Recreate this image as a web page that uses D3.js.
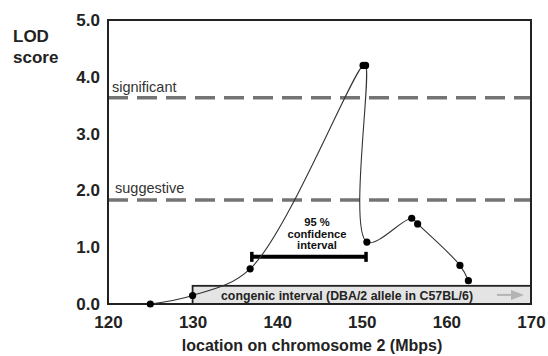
<!DOCTYPE html>
<html>
<head>
<meta charset="utf-8">
<script src="https://cdn.jsdelivr.net/npm/d3@7"></script>
<style>
  body { margin: 0; background: #fff; }
  svg { display: block; font-family: "Liberation Sans", Arial, sans-serif; }
</style>
</head>
<body>
<svg id="chart" width="548" height="356"></svg>
<script>
// markers along chromosome 2 (Mbps) and their LOD scores
const positions = [125, 130, 136.8, 150.15, 150.45, 150.6, 155.9, 156.6, 161.6, 162.6];
const lodScores = [0.0, 0.15, 0.62, 4.2, 4.2, 1.09, 1.51, 1.41, 0.68, 0.41];

const xTicks = [120, 130, 140, 150, 160, 170];
const yTicks = [0, 1, 2, 3, 4, 5];

const thresholds = [
  { name: 'significant', lod: 3.63 },
  { name: 'suggestive', lod: 1.83 }
];

const ciRange = [137, 150.5];   // 95 % confidence interval
const ciLod = 0.83;
const congenicRange = [130, 170];
const congenicHeight = 0.32;

const svg = d3.select('#chart');

const x = d3.scaleLinear().domain([120, 170]).range([108, 531]);
const y = d3.scaleLinear().domain([0, 5]).range([304, 20]);

// threshold lines
thresholds.forEach(t => {
  svg.append('line')
    .attr('x1', x(120)).attr('x2', x(170))
    .attr('y1', y(t.lod)).attr('y2', y(t.lod))
    .attr('stroke', '#747474')
    .attr('stroke-width', 3.5)
    .attr('stroke-dasharray', '20,9');
});

svg.append('text')
  .attr('x', 112).attr('y', y(thresholds[0].lod) - 6)
  .attr('font-size', 14.5).attr('fill', '#333')
  .text('significant');

svg.append('text')
  .attr('x', 115).attr('y', y(thresholds[1].lod) - 7)
  .attr('font-size', 14.5).attr('fill', '#333')
  .text('suggestive');

// congenic interval box
svg.append('rect')
  .attr('x', x(congenicRange[0]))
  .attr('y', y(congenicHeight))
  .attr('width', x(congenicRange[1]) - x(congenicRange[0]))
  .attr('height', y(0) - y(congenicHeight))
  .attr('fill', '#e4e4e4')
  .attr('stroke', '#222')
  .attr('stroke-width', 1.8);

svg.append('text')
  .attr('x', 221).attr('y', 299.5)
  .attr('font-size', 12.3).attr('fill', '#222')
  .attr('font-weight', 'bold')
  .attr('textLength', 252)
  .text('congenic interval (DBA/2 allele in C57BL/6)');

// light arrow at the right end of the congenic box
const ay = y(congenicHeight / 2);
svg.append('line')
  .attr('x1', 497).attr('x2', 512)
  .attr('y1', ay).attr('y2', ay)
  .attr('stroke', '#b4b4b4').attr('stroke-width', 2);
svg.append('path')
  .attr('d', `M511,${ay - 5}L524,${ay}L511,${ay + 5}Z`)
  .attr('fill', '#b4b4b4');

// plot frame
svg.append('rect')
  .attr('x', x(120)).attr('y', y(5))
  .attr('width', x(170) - x(120))
  .attr('height', y(0) - y(5))
  .attr('fill', 'none')
  .attr('stroke', '#222')
  .attr('stroke-width', 2);

// confidence interval bar
const ciY = y(ciLod);
svg.append('line')
  .attr('x1', x(ciRange[0])).attr('x2', x(ciRange[1]))
  .attr('y1', ciY).attr('y2', ciY)
  .attr('stroke', '#000').attr('stroke-width', 4);
ciRange.forEach(v => {
  svg.append('line')
    .attr('x1', x(v)).attr('x2', x(v))
    .attr('y1', ciY - 5).attr('y2', ciY + 5)
    .attr('stroke', '#000').attr('stroke-width', 3.5);
});

const ciLabel = ['95 %', 'confidence', 'interval'];
svg.append('g')
  .selectAll('text')
  .data(ciLabel)
  .join('text')
  .attr('x', 317)
  .attr('y', (d, i) => 226 + i * 11.6)
  .attr('text-anchor', 'middle')
  .attr('font-size', 11.2)
  .attr('font-weight', 'bold')
  .attr('fill', '#111')
  .text(d => d);

// LOD curve
const pts = positions.map((p, i) => [p, lodScores[i]]);
const line = d3.line()
  .x(d => x(d[0]))
  .y(d => y(d[1]))
  .curve(d3.curveCatmullRom.alpha(0.5));

svg.append('path')
  .datum(pts)
  .attr('d', line)
  .attr('fill', 'none')
  .attr('stroke', '#333')
  .attr('stroke-width', 1.1);

svg.append('g')
  .selectAll('circle')
  .data(pts)
  .join('circle')
  .attr('cx', d => x(d[0]))
  .attr('cy', d => y(d[1]))
  .attr('r', 3.6)
  .attr('fill', '#000');

// axes
const xAxis = svg.append('g')
  .attr('transform', `translate(0,${y(0)})`)
  .call(d3.axisBottom(x).tickValues(xTicks).tickSize(0).tickPadding(12).tickFormat(d3.format('d')));
const yAxis = svg.append('g')
  .attr('transform', `translate(${x(120)},0)`)
  .call(d3.axisLeft(y).tickValues(yTicks).tickSize(0).tickPadding(8).tickFormat(d3.format('.1f')));

[xAxis, yAxis].forEach(g => {
  g.select('.domain').remove();
  g.selectAll('text')
    .attr('font-family', '"Liberation Sans", Arial, sans-serif')
    .attr('font-size', 17)
    .attr('font-weight', 'bold')
    .attr('fill', '#222');
});

svg.append('text')
  .attr('x', 312).attr('y', 351)
  .attr('text-anchor', 'middle')
  .attr('font-size', 16)
  .attr('font-weight', 'bold')
  .attr('fill', '#222')
  .text('location on chromosome 2 (Mbps)');

svg.append('text')
  .attr('x', 13).attr('y', 42)
  .attr('font-size', 17)
  .attr('font-weight', 'bold')
  .attr('fill', '#222')
  .text('LOD');
svg.append('text')
  .attr('x', 13).attr('y', 63)
  .attr('font-size', 17)
  .attr('font-weight', 'bold')
  .attr('fill', '#222')
  .text('score');
</script>
</body>
</html>
